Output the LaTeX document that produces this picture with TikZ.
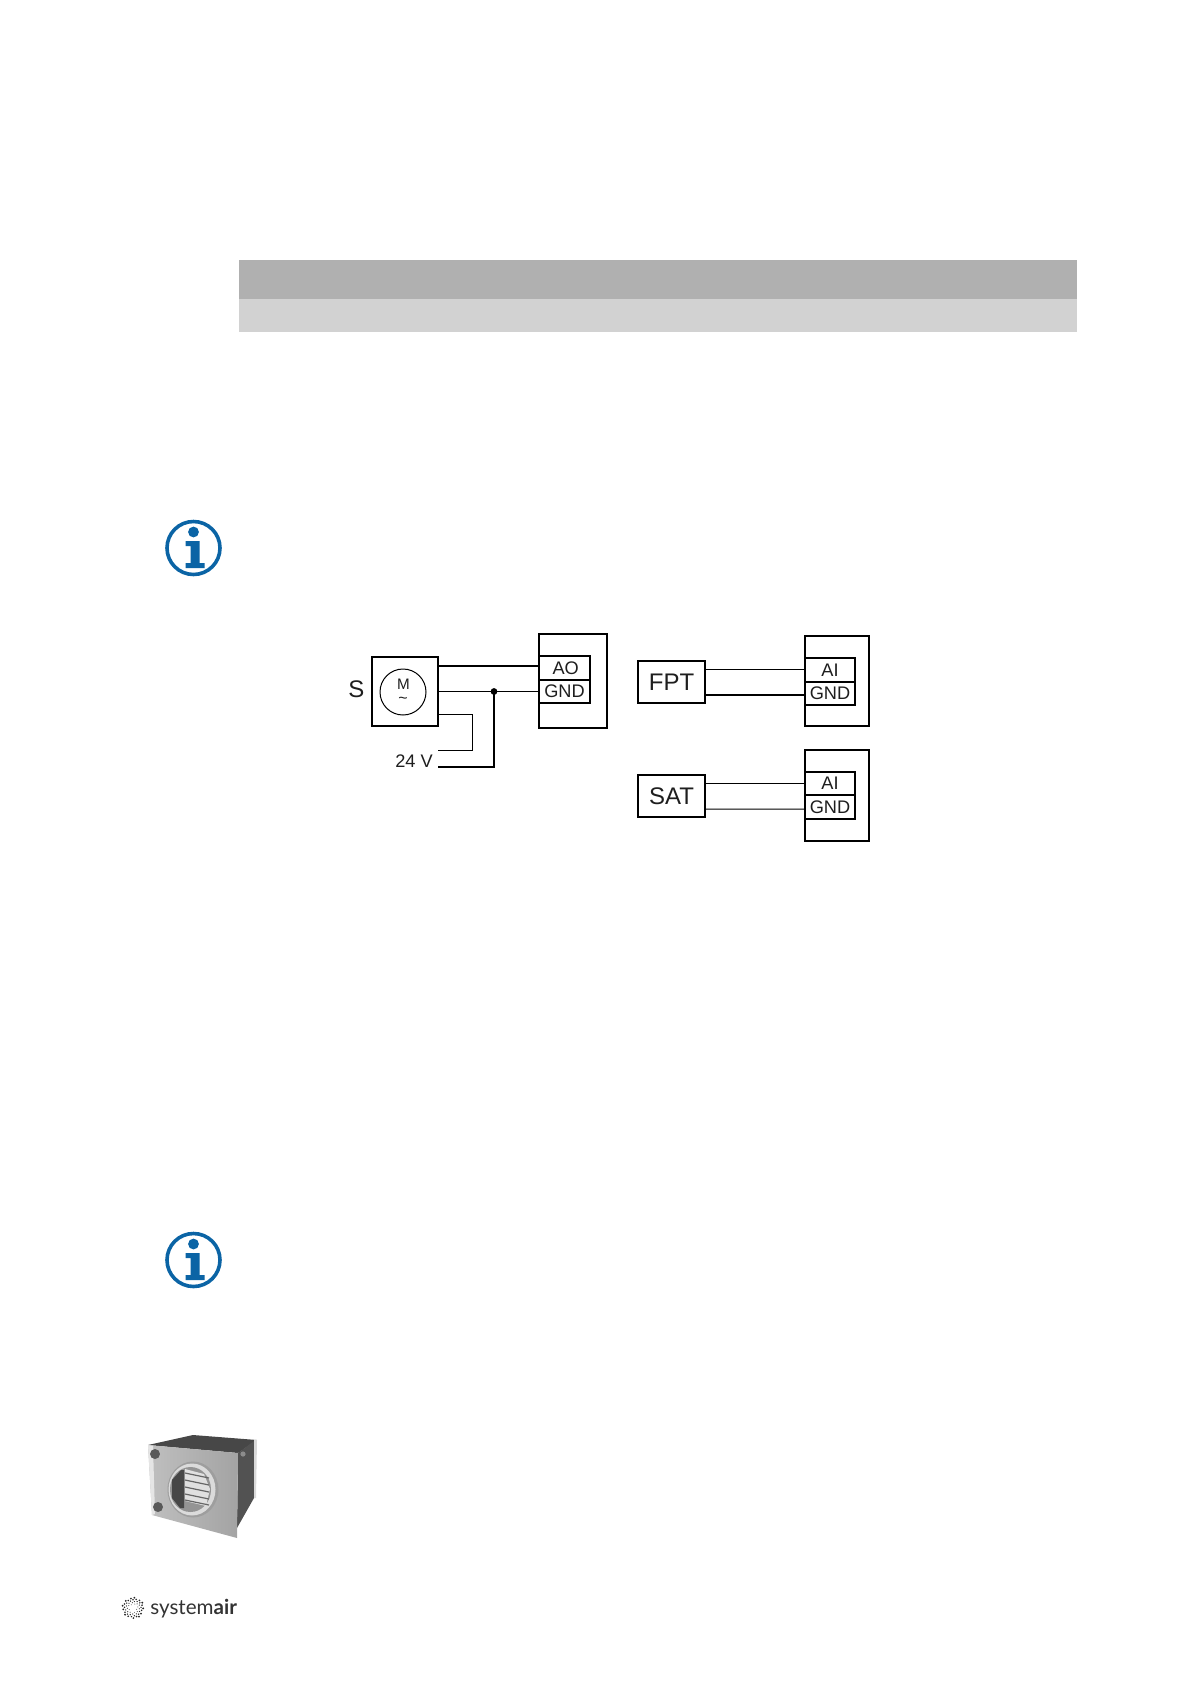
\documentclass[tikz,border=0pt]{standalone}
\usepackage{fontspec}
\setmainfont{Liberation Sans}
\newfontfamily\logofont{Lato}
\usetikzlibrary{arrows.meta,positioning,calc}
\definecolor{barDark}{HTML}{B0B0B0}
\definecolor{barLight}{HTML}{D2D2D2}
\definecolor{infoBlue}{HTML}{0B64A5}
\definecolor{inkGrey}{HTML}{1E1E1E}
\tikzset{
  boxed/.style={draw=black, line width=1bp, inner sep=0pt, outer sep=0pt, text=inkGrey},
  port/.style={boxed, minimum height=12bp},
  wirethin/.style={line width=0.5bp},
  wirethick/.style={line width=0.9bp},
  infoicon/.pic={
    \draw[infoBlue, line width=1.8bp] (0,0) circle[radius=26.5];
    \fill[infoBlue] (0,-16) circle[radius=5.4];
    \fill[infoBlue] (-8,-7) -- (6,-7) -- (6,15) -- (11,15) -- (11,20) -- (-8,20) -- (-8,15) -- (-3,15) -- (-3,-2) -- (-8,-2) -- cycle;
  }
}
\begin{document}
\begin{tikzpicture}[x=0.5bp, y=-0.5bp, font=\fontsize{9.1bp}{10bp}\selectfont]
\useasboundingbox (0,0) rectangle (1191,1684);

% header bars
\fill[barDark] (239,260) rectangle (1077,299);
\fill[barLight] (239,299) rectangle (1077,332);

% info icons
\pic at (193.5,548) {infoicon};
\pic at (193.5,1260) {infoicon};

% damper motor
\node[boxed, minimum width=33bp, minimum height=34.5bp] (motor) at (405,691.5) {};
\node[draw=black, line width=0.5bp, circle, minimum size=23bp, inner sep=0pt, text=inkGrey] (rotor) at (403,692) {};
\node[font=\fontsize{7.6bp}{8bp}\selectfont, inner sep=0pt, text=inkGrey] (rotorM) at (403.5,684) {M};
\node[font=\fontsize{8bp}{8bp}\selectfont, inner sep=0pt, text=inkGrey] (rotorT) at (403,700) {\char`~};
\node[left=4bp of motor, yshift=1.2bp, xshift=0.4bp, font=\fontsize{12bp}{12bp}\selectfont, inner sep=0pt, text=inkGrey] (motorS) {S};

\node[boxed, minimum width=34bp, minimum height=47bp] (panelAO) at (573,681) {};
\node[port, minimum width=25.5bp] (ao) at (564.5,668) {\hspace{1.2bp}AO};
\node[port, minimum width=25.5bp, minimum height=11.5bp, below=0pt of ao] (gndA) {GND};

\coordinate (supplyA) at (438,750);
\coordinate (supplyB) at (438,767);
\coordinate (bendA) at (472,714);
\node[inner sep=0pt, text=inkGrey] (volt) at (414,761) {24 V};
\fill (494,691.5) circle[radius=3.4] coordinate (tie);

\draw[wirethick] (motor.east |- 0,666) -- ([yshift=1bp]ao.west);
\draw[wirethin] (motor.east |- gndA.west) -- (gndA.west);
\draw[wirethin] (motor.east |- bendA) -- (bendA) |- (supplyA);
\draw[wirethick] (tie) |- (supplyB);

% sensors
\node[boxed, minimum width=33.5bp, minimum height=21bp, font=\fontsize{12bp}{12bp}\selectfont] (fpt) at (671.5,682) {FPT};
\node[boxed, minimum width=32bp, minimum height=45bp] (panelFPT) at (837,681) {};
\node[port, minimum width=25bp] (aiF) at (830,670) {AI};
\node[port, minimum width=25bp, minimum height=11.5bp, below=0pt of aiF] (gndF) {GND};
\draw[wirethin] (fpt.east |- 0,669) -- ([yshift=0.5bp]aiF.west);
\draw[wirethick] (fpt.east |- 0,695) -- ([yshift=-0.75bp]gndF.west);

\node[boxed, minimum width=33.5bp, minimum height=21bp, font=\fontsize{12bp}{12bp}\selectfont] (sat) at (671.5,796) {SAT};
\node[boxed, minimum width=32bp, minimum height=45.5bp] (panelSAT) at (837,795.5) {};
\node[port, minimum width=25bp, minimum height=11.5bp] (aiS) at (830,783.5) {AI};
\node[port, minimum width=25bp, below=0pt of aiS] (gndS) {GND};
\draw[wirethin] (sat.east |- aiS.west) -- (aiS.west);
\draw[wirethin] (sat.east |- 0,809) -- ([yshift=-1bp]gndS.west);

% coil unit
\fill[black!72] (148,1445) -- (193,1435) -- (257,1440) -- (238,1453) -- cycle;
\fill[black!68] (238,1453) -- (254,1441) -- (254,1498) -- (237,1528) -- cycle;
\fill[black!15] (254,1440) -- (257,1440) -- (256,1498) -- (254,1498) -- cycle;
\shade[left color=black!25, right color=black!36] (148,1445) -- (238,1453) -- (237,1538) -- (152,1515) -- cycle;
\fill[black!10] (148,1445) -- (153,1446) -- (155,1514) -- (152,1515) -- cycle;
\fill[black!38] (193,1489.5) ellipse[x radius=25.5, y radius=28];
\fill[black!14] (192,1489.5) ellipse[x radius=23.5, y radius=26];
\fill[black!42] (190.5,1489.5) ellipse[x radius=20.5, y radius=22.5];
\fill[black!72] (172,1480) -- (181,1470) -- (184,1470) -- (184,1508) -- (180,1508) -- (172,1498) -- cycle;
\fill[black!12] (185,1469) -- (204,1474) -- (210,1489) -- (206,1506) -- (185,1501) -- cycle;
\foreach \yy in {1473,1480,1487,1494,1500}
  \draw[black!60, line width=0.6bp] (185,\yy) -- (209,\yy+5);
\fill[black!65] (155,1454) circle[radius=5];
\fill[black!65] (158,1507) circle[radius=5];
\fill[black!45] (243,1454) circle[radius=2.6];

% logo
\foreach \n in {7,...,60}
  \fill[black!85] ({133+1.38*sqrt(\n)*cos(137.5*\n)},{1608+1.38*sqrt(\n)*sin(137.5*\n)}) circle[radius=0.35+0.012*\n];
\node[anchor=base west, inner sep=0pt, font=\logofont\fontsize{10.3bp}{12bp}\selectfont, text=black!80] (logo) at (150,1614) {system\textbf{air}};
\end{tikzpicture}
\end{document}
